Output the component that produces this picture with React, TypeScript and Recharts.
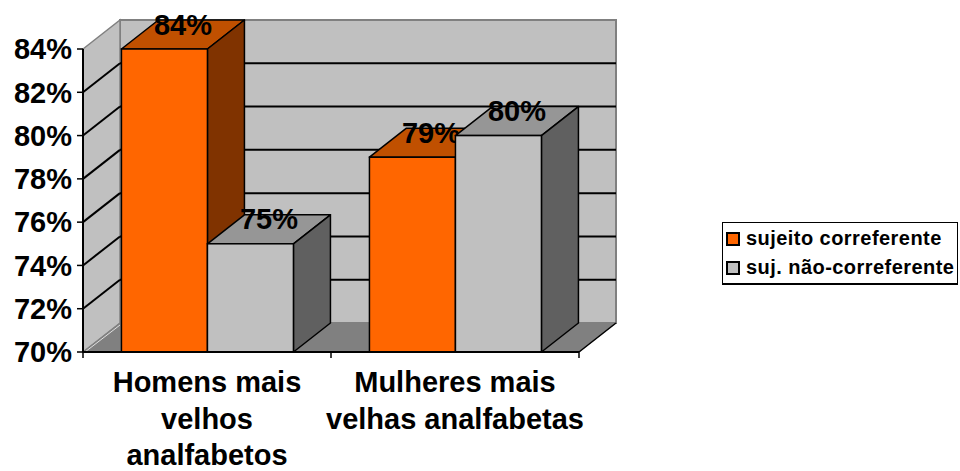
import React from 'react'
import {
    BarChart,
    Bar,
    XAxis,
    YAxis,
    CartesianGrid,
    ReferenceArea,
    Legend
} from 'recharts'

const categories = ['Homens mais velhos analfabetos', 'Mulheres mais velhas analfabetas']
const categoryLines = [['Homens mais', 'velhos', 'analfabetos'], ['Mulheres mais', 'velhas analfabetas']]
const sujeitoCorreferente = [84, 79]
const sujNaoCorreferente = [75, 80]
const yTicks = [70, 72, 74, 76, 78, 80, 82, 84]
const seriesNames = ['sujeito correferente', 'suj. não-correferente']

const data = categories.map((name, i) => ({
    name,
    corref: sujeitoCorreferente[i],
    naoCorref: sujNaoCorreferente[i]
}))

const FONT = '"Liberation Sans", Arial, sans-serif'
// depth offset of the 3D walls and bars
const DX = 37
const DY = -29

const orange = { front: '#FF6600', top: '#C05000', side: '#803300' }
const gray = { front: '#C0C0C0', top: '#969696', side: '#606060' }

const makeShape = (key: string, c: { front: string; top: string; side: string }) => (props: any) => {
    const { x, y, width: w, height: h, payload } = props
    const value = payload ? payload[key] : props.value
    return (
        <g>
            <polygon
                points={`${x},${y} ${x + DX},${y + DY} ${x + w + DX},${y + DY} ${x + w},${y}`}
                fill={c.top}
                stroke="#000"
                strokeWidth={1.5}
                strokeLinejoin="round"
            />
            <polygon
                points={`${x + w},${y} ${x + w + DX},${y + DY} ${x + w + DX},${y + h + DY} ${x + w},${y + h}`}
                fill={c.side}
                stroke="#000"
                strokeWidth={1.5}
                strokeLinejoin="round"
            />
            <rect x={x} y={y} width={w} height={h} fill={c.front} stroke="#000" strokeWidth={1.5} />
            <text
                x={x + w / 2 + DX / 2}
                y={y + DY / 2}
                textAnchor="middle"
                fontFamily={FONT}
                fontWeight="bold"
                fontSize={29}
                fill="#000"
            >
                {`${value}%`}
            </text>
        </g>
    )
}

const Walls = (props: any) => {
    const { x, y, width: w, height: h } = props
    return (
        <g>
            {/* back wall */}
            <rect x={x + DX} y={y + DY} width={w} height={h} fill="#C0C0C0" stroke="#808080" strokeWidth={2} />
            {/* side wall */}
            <polygon
                points={`${x},${y} ${x + DX},${y + DY} ${x + DX},${y + h + DY} ${x},${y + h}`}
                fill="#C0C0C0"
                stroke="#808080"
                strokeWidth={1.5}
            />
            {/* floor */}
            <polygon
                points={`${x},${y + h} ${x + DX},${y + h + DY} ${x + w + DX},${y + h + DY} ${x + w},${y + h}`}
                fill="#808080"
                stroke="#808080"
                strokeWidth={1}
            />
            <line x1={x + w} y1={y + h} x2={x + w + DX} y2={y + h + DY} stroke="#000" strokeWidth={1.5} />
            <line x1={x + 2} y1={y + h} x2={x + DX} y2={y + h + DY + 2} stroke="#E0E0E0" strokeWidth={1} />
        </g>
    )
}

const GridLine = (props: any) => {
    const { x1, x2, y1, y, height, index } = props
    if (typeof y === 'number' && (Math.abs(y1 - y) < 1 || Math.abs(y1 - (y + height)) < 1)) {
        return <g key={`gl-${index}`} />
    }
    return (
        <g key={`gl-${index}`}>
            <line x1={x1 + DX} y1={y1 + DY} x2={x2 + DX} y2={y1 + DY} stroke="#000" strokeWidth={2} />
            <line x1={x1} y1={y1} x2={x1 + DX} y2={y1 + DY} stroke="#000" strokeWidth={2} />
        </g>
    )
}

const CategoryTick = (props: any) => {
    const { x, y, payload, index } = props
    const off = payload && typeof payload.offset === 'number' ? payload.offset : 0
    const i = categories.indexOf(payload.value)
    const lines = categoryLines[i] || [payload.value]
    return (
        <g>
            <line x1={x - off} y1={y} x2={x - off} y2={y + 6} stroke="#000" strokeWidth={1.5} />
            {index === categories.length - 1 && (
                <line x1={x + off} y1={y} x2={x + off} y2={y + 6} stroke="#000" strokeWidth={1.5} />
            )}
            {lines.map((l: string, k: number) => (
                <text
                    key={k}
                    x={x}
                    y={y + 40 + k * 36.5}
                    textAnchor="middle"
                    fontFamily={FONT}
                    fontWeight="bold"
                    fontSize={29}
                    fill="#000"
                >
                    {l}
                </text>
            ))}
        </g>
    )
}

const LegendBox = ({ payload }: any) => {
    const items = [...(payload || [])].sort(
        (a: any, b: any) => seriesNames.indexOf(a.value) - seriesNames.indexOf(b.value)
    )
    return (
        <div
            style={{
                border: '1px solid #000',
                borderBottomWidth: 2,
                background: '#fff',
                padding: '1px 0 1px 3px',
                fontFamily: FONT,
                fontWeight: 'bold',
                fontSize: 20,
                letterSpacing: 0.45,
                lineHeight: '29px',
                color: '#000',
                whiteSpace: 'nowrap'
            }}
        >
            {items.map((entry: any, i: number) => (
                <div key={i} style={{ display: 'flex', alignItems: 'center', height: 29 }}>
                    <span
                        style={{
                            display: 'inline-block',
                            width: 10,
                            height: 10,
                            border: '2px solid #000',
                            background: entry.color,
                            marginRight: 6
                        }}
                    />
                    <span>{entry.value}</span>
                </div>
            ))}
        </div>
    )
}

export default function App() {
    return (
        <div style={{ position: 'absolute', left: 0, top: 0, background: '#fff' }}>
            <BarChart
                width={960}
                height={471}
                data={data}
                margin={{ top: 49, right: 381, bottom: 0, left: 0 }}
                barCategoryGap="15.5%"
                barGap={0}
            >
                <ReferenceArea y1={70} y2={84} shape={Walls} ifOverflow="visible" zIndex={-150} />
                <CartesianGrid vertical={false} horizontal={GridLine} />
                <XAxis
                    dataKey="name"
                    height={119}
                    interval={0}
                    tickLine={false}
                    tickSize={0}
                    tickMargin={0}
                    axisLine={{ stroke: '#000', strokeWidth: 2 }}
                    tick={<CategoryTick />}
                />
                <YAxis
                    width={83}
                    domain={[70, 84]}
                    ticks={yTicks}
                    interval={0}
                    tickFormatter={(v: number) => `${v}%`}
                    axisLine={{ stroke: '#000', strokeWidth: 2 }}
                    tickLine={{ stroke: '#000', strokeWidth: 1.5 }}
                    tickSize={6}
                    tickMargin={5}
                    tick={{ fill: '#000', fontSize: 29, fontWeight: 'bold', fontFamily: FONT }}
                />
                <Legend
                    layout="vertical"
                    align="center"
                    verticalAlign="middle"
                    wrapperStyle={{ left: 722, top: 222, width: 236 }}
                    content={<LegendBox />}
                />
                <Bar
                    dataKey="corref"
                    name={seriesNames[0]}
                    fill={orange.front}
                    shape={makeShape('corref', orange)}
                    isAnimationActive={false}
                />
                <Bar
                    dataKey="naoCorref"
                    name={seriesNames[1]}
                    fill={gray.front}
                    shape={makeShape('naoCorref', gray)}
                    isAnimationActive={false}
                />
            </BarChart>
        </div>
    )
}
